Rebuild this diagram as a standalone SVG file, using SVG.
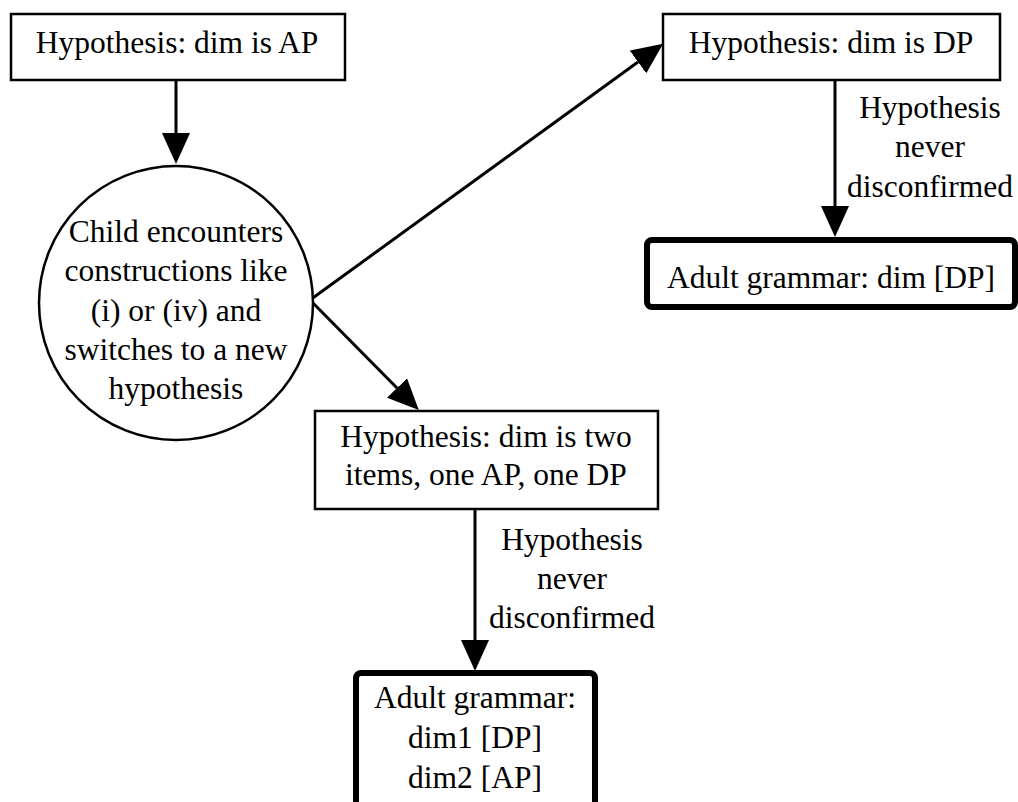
<svg xmlns="http://www.w3.org/2000/svg" width="1018" height="802" viewBox="0 0 1018 802">
<style>
text{font-family:"Liberation Serif","Times New Roman",serif;font-size:31.5px;fill:#000;text-anchor:middle}
.box{fill:#fff;stroke:#000;stroke-width:2.5}
.bold{fill:#fff;stroke:#000;stroke-width:6}
.edge{fill:none;stroke:#000;stroke-width:3;marker-end:url(#arr)}
</style>
<defs>
<marker id="arr" markerUnits="userSpaceOnUse" viewBox="0 0 31 28" markerWidth="31" markerHeight="28" refX="0" refY="14" orient="auto">
<path d="M0,0 L31,14 L0,28 z" fill="#000"/>
</marker>
</defs>
<rect width="1018" height="802" fill="#fff"/>
<g id="connectors">
<line class="edge" x1="176" y1="80" x2="176" y2="133"/>
<line class="edge" x1="310" y1="300" x2="638" y2="62"/>
<line class="edge" x1="310" y1="300" x2="397" y2="388"/>
<line class="edge" x1="835" y1="80" x2="835" y2="206"/>
<line class="edge" x1="475" y1="509" x2="475" y2="640"/>
<g id="label-dp">
<text x="930" y="118">Hypothesis</text>
<text x="930" y="157">never</text>
<text x="930" y="197">disconfirmed</text>
</g>
<g id="label-two">
<text x="572" y="550">Hypothesis</text>
<text x="572" y="589">never</text>
<text x="572" y="628">disconfirmed</text>
</g>
</g>
<g id="hyp-ap">
<rect class="box" x="11" y="14" width="334" height="66"/>
<text x="177" y="53">Hypothesis: dim is AP</text>
</g>
<g id="child">
<circle class="box" cx="176" cy="303" r="137"/>
<text x="176" y="242">Child encounters</text>
<text x="176" y="281">constructions like</text>
<text x="176" y="321">(i) or (iv) and</text>
<text x="176" y="360">switches to a new</text>
<text x="176" y="399">hypothesis</text>
</g>
<g id="hyp-dp">
<rect class="box" x="663" y="14" width="337" height="66"/>
<text x="831" y="53">Hypothesis: dim is DP</text>
</g>
<g id="adult-dp">
<rect class="bold" x="647" y="240" width="368" height="67" rx="5"/>
<text x="831" y="288">Adult grammar: dim [DP]</text>
</g>
<g id="hyp-two">
<rect class="box" x="315" y="411" width="343" height="98"/>
<text x="486" y="447">Hypothesis: dim is two</text>
<text x="486" y="485">items, one AP, one DP</text>
</g>
<g id="adult-two">
<rect class="bold" x="356" y="673" width="239" height="134" rx="5"/>
<text x="475" y="708">Adult grammar:</text>
<text x="475" y="748">dim1 [DP]</text>
<text x="475" y="788">dim2 [AP]</text>
</g>
</svg>
